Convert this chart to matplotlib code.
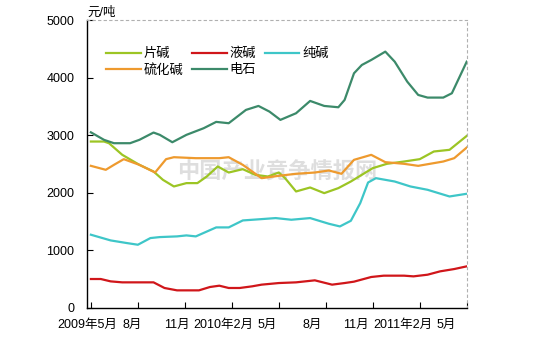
import matplotlib
matplotlib.use('Agg')
import matplotlib.pyplot as plt

plt.rcParams['font.family'] = ['Liberation Sans', 'Noto Sans CJK SC', 'DejaVu Sans']

# months counted from 2009-05
pianjian_x = [0, 0.84, 1.16, 2.0, 3.1, 4.0, 4.6, 5.3, 6.1, 6.8, 7.4, 8.1, 8.8, 9.7, 10.5, 11.3,
              12.0, 12.4, 13.1, 14.0, 14.9, 15.8, 16.6, 17.3, 18.0, 18.9, 20.0, 21.0, 21.9, 22.9, 24.0]
pianjian = [2890, 2890, 2860, 2660, 2485, 2370, 2225, 2110, 2168, 2168, 2283, 2457, 2352, 2410, 2312, 2283,
            2352, 2254, 2023, 2092, 1994, 2081, 2196, 2312, 2428, 2503, 2543, 2584, 2717, 2746, 2988]

yejian_x = [0, 0.63, 1.26, 2.0, 4.0, 4.7, 5.5, 6.9, 7.6, 8.2, 8.8, 9.5, 10.3, 10.9, 12.0, 13.1,
            14.3, 15.4, 16.2, 16.8, 17.9, 18.7, 20.0, 20.6, 21.5, 22.3, 23.2, 24.0]
yejian = [503, 503, 462, 445, 445, 347, 306, 306, 364, 387, 347, 347, 376, 405, 433, 445,
          480, 405, 433, 457, 538, 561, 561, 549, 578, 636, 676, 723]

chunjian_x = [0, 1.26, 2.3, 3.0, 3.8, 4.4, 5.5, 6.1, 6.7, 8.0, 8.8, 9.7, 10.9, 11.8, 12.8, 14.0,
              15.2, 15.9, 16.6, 17.2, 17.7, 18.2, 19.4, 20.4, 21.5, 22.9, 24.0]
chunjian = [1272, 1173, 1127, 1098, 1214, 1231, 1243, 1260, 1243, 1399, 1399, 1520, 1543, 1561, 1532, 1561,
            1462, 1416, 1514, 1821, 2179, 2254, 2196, 2110, 2052, 1936, 1983]

liuhuajian_x = [0, 0.95, 1.47, 2.1, 3.1, 4.1, 4.8, 5.3, 6.7, 8.2, 8.8, 9.7, 10.9, 12.0, 13.1, 14.3,
                15.2, 16.0, 16.8, 17.9, 18.8, 20.0, 20.9, 22.5, 23.2, 24.0]
liuhuajian = [2468, 2399, 2485, 2584, 2485, 2352, 2584, 2618, 2601, 2601, 2618, 2485, 2254, 2295, 2330, 2352,
              2387, 2330, 2572, 2659, 2532, 2503, 2468, 2543, 2601, 2786]

dianshi_x = [0, 0.84, 1.47, 2.5, 3.1, 4.0, 4.4, 5.2, 6.1, 7.2, 8.0, 8.8, 9.9, 10.7, 11.4, 12.1,
             13.1, 14.0, 14.9, 15.8, 16.2, 16.8, 17.3, 17.9, 18.8, 19.4, 20.2, 20.9, 21.5, 22.5, 23.05, 24.0]
dianshi = [3050, 2919, 2861, 2861, 2920, 3046, 3006, 2878, 3006, 3121, 3231, 3208, 3439, 3508, 3410, 3266,
           3381, 3595, 3508, 3485, 3612, 4075, 4219, 4306, 4451, 4277, 3930, 3699, 3653, 3653, 3728, 4277]

tick_months = [0, 3, 6, 9, 12, 15, 18, 21, 24]
label_months = [-0.25, 2.65, 5.5, 8.45, 11.25, 14.1, 16.95, 19.9, 22.7]
tick_labels = ['2009年5月', '8月', '11月', '2010年2月', '5月', '8月', '11月', '2011年2月', '5月']
yticks = [0, 1000, 2000, 3000, 4000, 5000]

fig = plt.figure(figsize=(5.45, 3.48), dpi=100, facecolor='white')
ax = fig.add_axes([0.1596, 0.115, 0.6968, 0.8275])

lw = 1.6
l1, = ax.plot(pianjian_x, pianjian, color='#9cc524', lw=lw, label='片碱')
l2, = ax.plot(yejian_x, yejian, color='#d0161a', lw=lw, label='液碱')
l3, = ax.plot(chunjian_x, chunjian, color='#3ec6c8', lw=lw, label='纯碱')
l4, = ax.plot(liuhuajian_x, liuhuajian, color='#ee9a2e', lw=lw, label='硫化碱')
l5, = ax.plot(dianshi_x, dianshi, color='#3c8a6a', lw=lw, label='电石')

ax.set_xlim(0, 24)
ax.set_ylim(0, 5000)

# tick marks on the month grid, labels placed on their own positions
ax.set_xticks(tick_months, minor=True)
ax.set_xticks(label_months)
ax.set_xticklabels(tick_labels, fontsize=9)
ax.tick_params(axis='x', which='major', length=0, pad=8)
ax.tick_params(axis='x', which='minor', direction='in', length=4, width=0.8)
ax.set_yticks(yticks)
ax.set_yticklabels([str(v) for v in yticks], fontsize=9)
ax.tick_params(axis='y', direction='in', length=4, width=0.8, pad=9)

for s in ['left', 'bottom']:
    ax.spines[s].set_linewidth(1.0)
    ax.spines[s].set_color('black')
for s in ['top', 'right']:
    ax.spines[s].set_linestyle((0, (2, 3)))
    ax.spines[s].set_color('#b0b0b0')
    ax.spines[s].set_linewidth(0.8)

ax.text(0.0, 1.005, '元/吨', transform=ax.transAxes, fontsize=9, ha='left', va='bottom')

ax.legend(handles=[l1, l4, l2, l5, l3], ncol=3, loc='upper left', bbox_to_anchor=(0.02, 0.945),
          frameon=False, fontsize=9.5, handlelength=2.6, handletextpad=0.2,
          columnspacing=0.7, labelspacing=0.3)

# watermark
ax.text(0.5, 0.47, '中国产业竞争情报网', transform=ax.transAxes, fontsize=16,
        fontweight='bold', color='#c4c4c4', alpha=0.55, ha='center', va='center', zorder=0)

fig.savefig('out.png', dpi=100, facecolor='white')
